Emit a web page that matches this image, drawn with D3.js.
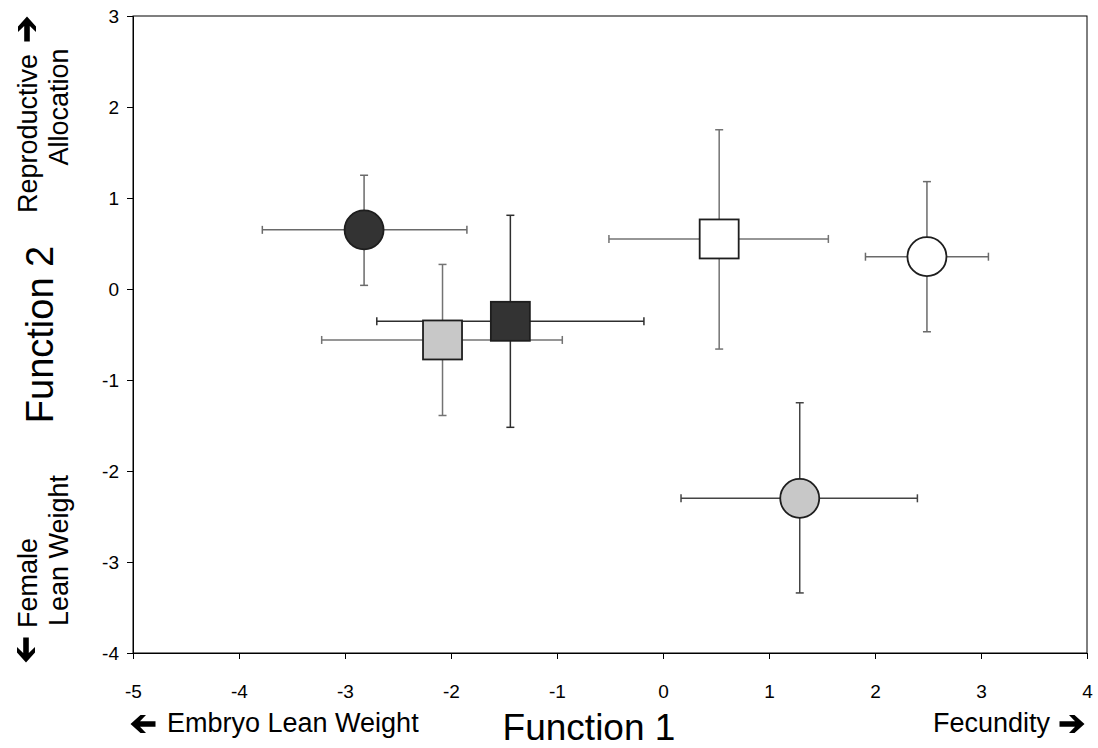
<!DOCTYPE html>
<html>
<head>
<meta charset="utf-8">
<script src="https://cdn.jsdelivr.net/npm/d3@7"></script>
<style>
  html, body { margin: 0; padding: 0; background: #fff; }
  svg { display: block; font-family: "Liberation Sans", Arial, sans-serif; }
</style>
</head>
<body>
<div id="chart"></div>
<script>
// Group centroids on the two discriminant functions, with error bars
var GROUPS = ["dark circle", "light square", "dark square", "white square", "white circle", "light circle"];
var SHAPES = ["circle", "square", "square", "square", "circle", "circle"];
var F1 = [-2.82, -2.08, -1.44, 0.53, 2.49, 1.29];
var F2 = [0.65, -0.56, -0.355, 0.55, 0.355, -2.30];
var F1_LO = [-3.78, -3.22, -2.70, -0.51, 1.91, 0.17];
var F1_HI = [-1.85, -0.95, -0.18, 1.56, 3.07, 2.40];
var F2_LO = [0.04, -1.39, -1.52, -0.66, -0.47, -3.34];
var F2_HI = [1.25, 0.27, 0.81, 1.75, 1.18, -1.25];

var X_TICKS = [-5, -4, -3, -2, -1, 0, 1, 2, 3, 4];
var Y_TICKS = [-4, -3, -2, -1, 0, 1, 2, 3];

// marker look per group
var FILLS = { "dark circle": "#333333", "light square": "#c8c8c8", "dark square": "#333333",
              "white square": "#ffffff", "white circle": "#ffffff", "light circle": "#c8c8c8" };
var BAR_COLORS = { "dark circle": "#6a6a6a", "light square": "#737373", "dark square": "#2e2e2e",
                   "white square": "#737373", "white circle": "#6a6a6a", "light circle": "#444444" };

var W = 1098, H = 748;
var margin = { left: 133, right: 11, top: 16, bottom: 95 };

var svg = d3.select("#chart").append("svg")
  .attr("width", W).attr("height", H);

var x = d3.scaleLinear().domain([-5, 4]).range([margin.left, W - margin.right]);
var y = d3.scaleLinear().domain([-4, 3]).range([H - margin.bottom, margin.top]);

// frame
svg.append("rect")
  .attr("x", x(-5)).attr("y", y(3))
  .attr("width", x(4) - x(-5)).attr("height", y(-4) - y(3))
  .attr("fill", "none").attr("stroke", "#000").attr("stroke-width", 1);

// axes (plain hyphen for negatives, as in the original)
var fmt = function(d) { return String(d); };
var xAxis = svg.append("g")
  .attr("transform", "translate(0," + y(-4) + ")")
  .call(d3.axisBottom(x).tickValues(X_TICKS).tickSize(6).tickPadding(26).tickFormat(fmt));
var yAxis = svg.append("g")
  .attr("transform", "translate(" + x(-5) + ",0)")
  .call(d3.axisLeft(y).tickValues(Y_TICKS).tickSize(6).tickPadding(8).tickFormat(fmt));

[xAxis, yAxis].forEach(function(g) {
  g.select(".domain").attr("stroke", "#000");
  g.selectAll(".tick line").attr("stroke", "#000");
  g.selectAll(".tick text")
    .attr("fill", "#000")
    .style("font-size", "19px")
    .style("font-family", "'Liberation Sans', Arial, sans-serif");
});
yAxis.selectAll(".tick text").attr("dy", "0.36em");

// error bars
var CAP = 4;
var bars = svg.append("g").attr("class", "errorbars");
GROUPS.forEach(function(name, i) {
  var c = BAR_COLORS[name];
  var g = bars.append("g").attr("stroke", c).attr("stroke-width", 1.5).attr("fill", "none");
  g.append("line")
    .attr("x1", x(F1_LO[i])).attr("x2", x(F1_HI[i]))
    .attr("y1", y(F2[i])).attr("y2", y(F2[i]));
  g.append("line")
    .attr("x1", x(F1[i])).attr("x2", x(F1[i]))
    .attr("y1", y(F2_LO[i])).attr("y2", y(F2_HI[i]));
  [F1_LO[i], F1_HI[i]].forEach(function(v) {
    g.append("line")
      .attr("x1", x(v)).attr("x2", x(v))
      .attr("y1", y(F2[i]) - CAP).attr("y2", y(F2[i]) + CAP);
  });
  [F2_LO[i], F2_HI[i]].forEach(function(v) {
    g.append("line")
      .attr("x1", x(F1[i]) - CAP).attr("x2", x(F1[i]) + CAP)
      .attr("y1", y(v)).attr("y2", y(v));
  });
});

// markers
var R = 19.5;
var marks = svg.append("g").attr("class", "markers");
GROUPS.forEach(function(name, i) {
  var cx = x(F1[i]), cy = y(F2[i]);
  var m;
  if (SHAPES[i] === "circle") {
    m = marks.append("circle").attr("cx", cx).attr("cy", cy).attr("r", R);
  } else {
    m = marks.append("rect").attr("x", cx - R).attr("y", cy - R).attr("width", 2 * R).attr("height", 2 * R);
  }
  m.attr("fill", FILLS[name]).attr("stroke", "#1e1e1e").attr("stroke-width", 1.8);
});

// axis titles
svg.append("text")
  .attr("x", 589).attr("y", 740)
  .attr("text-anchor", "middle")
  .attr("font-size", "37px")
  .text("Function 1");

svg.append("text")
  .attr("transform", "translate(53," + ((y(3) + y(-4)) / 2) + ") rotate(-90)")
  .attr("text-anchor", "middle")
  .attr("font-size", "38px")
  .text("Function 2");

// direction labels
svg.append("text").attr("x", 167).attr("y", 732).attr("font-size", "27px").text("Embryo Lean Weight");
svg.append("text").attr("x", 1050).attr("y", 732).attr("text-anchor", "end").attr("font-size", "27px").text("Fecundity");

svg.append("text")
  .attr("transform", "translate(37,213) rotate(-90)")
  .attr("font-size", "27px").text("Reproductive");
svg.append("text")
  .attr("transform", "translate(68,107) rotate(-90)")
  .attr("text-anchor", "middle")
  .attr("font-size", "27px").text("Allocation");
svg.append("text")
  .attr("transform", "translate(37,628) rotate(-90)")
  .attr("font-size", "27px").text("Female");
svg.append("text")
  .attr("transform", "translate(68,626) rotate(-90)")
  .attr("font-size", "27px").text("Lean Weight");

// heavy arrows
var ARROW = "M-12.5,-2.8 L3,-2.8 L-3,-9 L2.5,-9 L12.5,0 L2.5,9 L-3,9 L3,2.8 L-12.5,2.8 Z";
function arrow(cx, cy, angle) {
  svg.append("path")
    .attr("d", ARROW)
    .attr("fill", "#000")
    .attr("transform", "translate(" + cx + "," + cy + ") rotate(" + angle + ")");
}
arrow(143, 724, 180);
arrow(1072, 724, 0);
arrow(27, 29, -90);
arrow(26, 650, 90);
</script>
</body>
</html>
